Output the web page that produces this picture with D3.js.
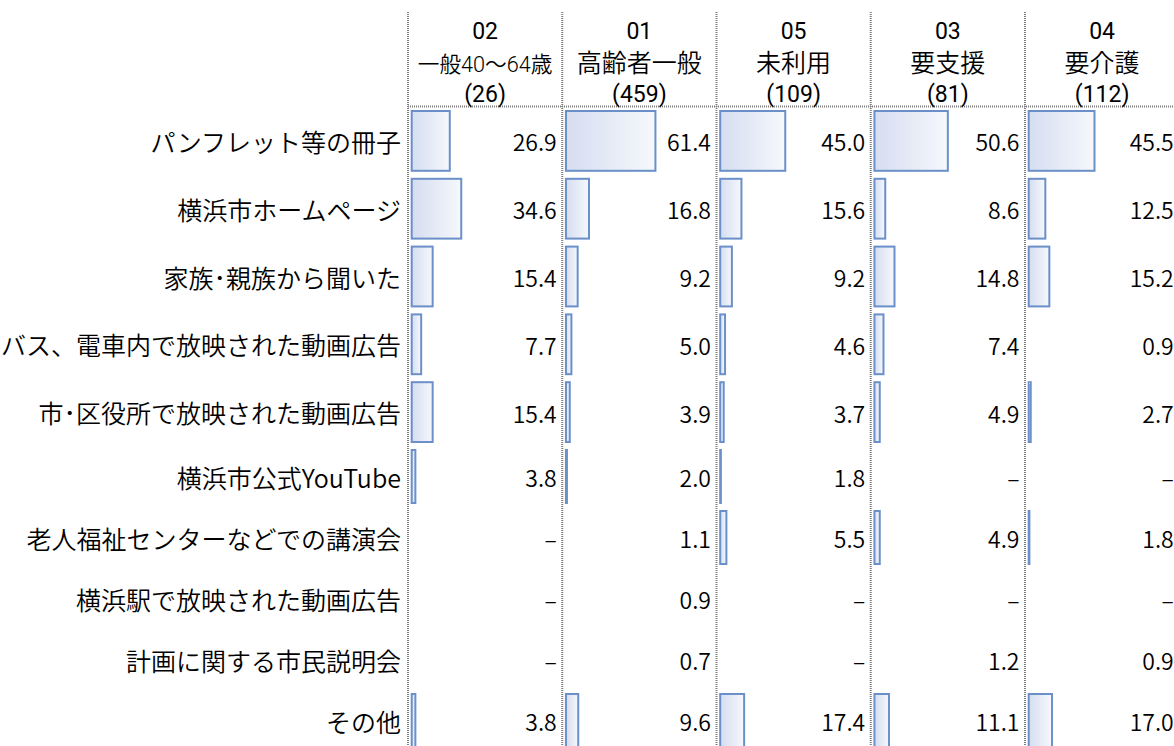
<!DOCTYPE html>
<html lang="ja">
<head>
<meta charset="utf-8">
<script src="https://cdn.jsdelivr.net/npm/d3@7"></script>
<style>
  html, body { margin: 0; padding: 0; background: #fff; }
  svg { display: block; font-family: "Noto Sans CJK JP", "Noto Sans", sans-serif; }
</style>
</head>
<body>
<svg id="chart" width="1174" height="746"></svg>
<script>
// ---- data ----
const categories = [
  "パンフレット等の冊子",
  "横浜市ホームページ",
  "家族･親族から聞いた",
  "バス、電車内で放映された動画広告",
  "市･区役所で放映された動画広告",
  "横浜市公式YouTube",
  "老人福祉センターなどでの講演会",
  "横浜駅で放映された動画広告",
  "計画に関する市民説明会",
  "その他"
];
const groupCodes = ["02", "01", "05", "03", "04"];
const groupNames = ["一般40～64歳", "高齢者一般", "未利用", "要支援", "要介護"];
const groupN = [26, 459, 109, 81, 112];
// null = "–" (no respondents)
const values02 = [26.9, 34.6, 15.4, 7.7, 15.4, 3.8, null, null, null, 3.8];
const values01 = [61.4, 16.8, 9.2, 5.0, 3.9, 2.0, 1.1, 0.9, 0.7, 9.6];
const values05 = [45.0, 15.6, 9.2, 4.6, 3.7, 1.8, 5.5, null, null, 17.4];
const values03 = [50.6, 8.6, 14.8, 7.4, 4.9, null, 4.9, null, 1.2, 11.1];
const values04 = [45.5, 12.5, 15.2, 0.9, 2.7, null, 1.8, null, 0.9, 17.0];
const seriesValues = [values02, values01, values05, values03, values04];

// ---- layout ----
const svg = d3.select("#chart");
const W = 1174, H = 746;
const colStart = 408, colWidth = 154.25;
const headerLine = 106.5;
const headFont = "Roboto, 'Noto Sans CJK JP', sans-serif";
const textWeight = 350;

const xCol = d3.scaleBand()
  .domain(groupCodes)
  .range([colStart, colStart + colWidth * groupCodes.length])
  .paddingInner(0).paddingOuter(0);

// row boundaries: first five rows are taller than the last five
const yRow = d3.scaleLinear().domain([0, 5, 10]).range([107, 446, 751]);
const xVal = d3.scaleLinear().domain([0, 100]).range([0, 149]);
const fmt = d3.format(".1f");

const defs = svg.append("defs");
const grad = defs.append("linearGradient").attr("id", "barGrad")
  .attr("x1", "0").attr("x2", "1").attr("y1", "0").attr("y2", "0");
grad.append("stop").attr("offset", "0%").attr("stop-color", "#d5ddf0");
grad.append("stop").attr("offset", "100%").attr("stop-color", "#f6f8fc");

// grid lines
const gridColor = "#7d7d7d";
svg.append("g").selectAll("line").data(groupCodes).join("line")
  .attr("x1", d => xCol(d)).attr("x2", d => xCol(d))
  .attr("y1", 12).attr("y2", H)
  .attr("stroke", gridColor).attr("stroke-width", 2)
  .attr("stroke-dasharray", "1 1");
svg.append("line")
  .attr("x1", colStart).attr("x2", W)
  .attr("y1", headerLine).attr("y2", headerLine)
  .attr("stroke", gridColor).attr("stroke-width", 2)
  .attr("stroke-dasharray", "1 1");

// header (shrink to fit like a spreadsheet cell)
const header = svg.append("g").attr("fill", "#000").attr("text-anchor", "middle")
  .attr("font-family", headFont);
groupCodes.forEach((code, i) => {
  const cx = xCol(code) + xCol.bandwidth() / 2;
  header.append("text").attr("x", cx).attr("y", 38.5).attr("font-size", 23)
    .attr("font-weight", 400).text(code);
  const t = header.append("text").attr("x", cx).attr("y", 72).attr("font-size", 25)
    .attr("font-weight", textWeight).text(groupNames[i]);
  const len = t.node().getComputedTextLength();
  const maxLen = 135;
  if (len > maxLen) t.attr("font-size", 25 * maxLen / len);
  header.append("text").attr("x", cx).attr("y", 101.5).attr("font-size", 23)
    .attr("font-weight", 400).text("(" + groupN[i] + ")");
});

// category labels
const rowMid = i => (yRow(i) + yRow(i + 1)) / 2;
svg.append("g").attr("font-size", 25).attr("fill", "#000").attr("text-anchor", "end")
  .attr("font-weight", textWeight)
  .selectAll("text").data(categories).join("text")
  .attr("x", 401)
  .attr("y", (d, i) => rowMid(i) + 11)
  .text(d => d);

// bars and values
groupCodes.forEach((code, gi) => {
  const g = svg.append("g");
  const left = xCol(code);
  const rows = seriesValues[gi].map((v, i) => ({ v, i }));
  g.selectAll("rect").data(rows.filter(d => d.v !== null)).join("rect")
    .attr("x", left + 3.7)
    .attr("y", d => yRow(d.i) + 4)
    .attr("width", d => Math.max(0, xVal(d.v) - 2))
    .attr("height", d => yRow(d.i + 1) - yRow(d.i) - 8)
    .attr("fill", "url(#barGrad)")
    .attr("stroke", "#6b90c9")
    .attr("stroke-width", 2);
  g.selectAll("text").data(rows).join("text")
    .attr("x", left + xCol.bandwidth() - 5.5)
    .attr("y", d => rowMid(d.i) + 10.5)
    .attr("text-anchor", "end")
    .attr("font-size", 23)
    .attr("font-weight", textWeight)
    .attr("fill", "#000")
    .text(d => d.v === null ? "–" : fmt(d.v));
});
</script>
</body>
</html>
